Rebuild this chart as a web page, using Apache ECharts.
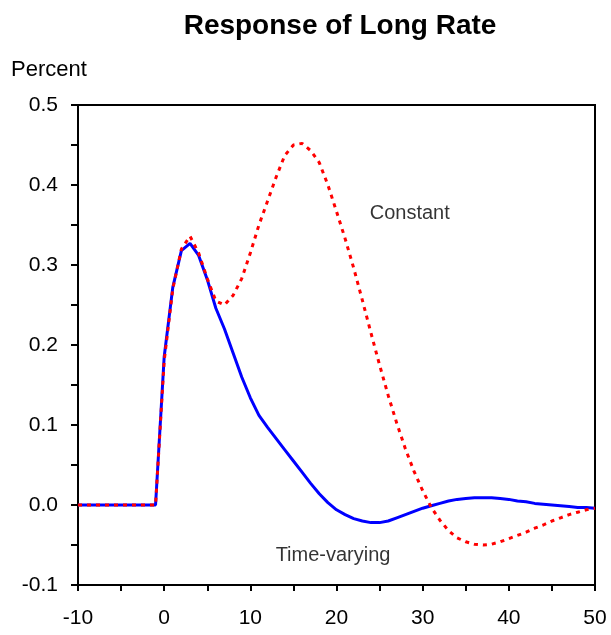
<!DOCTYPE html>
<html><head><meta charset="utf-8">
<script src="https://cdn.jsdelivr.net/npm/echarts@6/dist/echarts.min.js"></script>
<style>html,body{margin:0;padding:0;background:#fff}#c{width:611px;height:635px}</style>
</head><body><div id="c"></div>
<script>
const horizons = [];
for (let t = -10; t <= 50; t++) horizons.push(t);
const timeVarying = [0,0,0,0,0,0,0,0,0,0,
 0.185,0.272,0.318,0.327,0.312,0.282,0.246,0.220,0.190,0.160,
 0.134,0.112,0.097,0.083,0.069,0.055,0.041,0.027,0.014,0.003,
 -0.006,-0.012,-0.017,-0.020,-0.022,-0.022,-0.020,-0.016,-0.012,-0.008,
 -0.004,-0.001,0.002,0.005,0.007,0.008,0.009,0.009,0.009,0.008,
 0.007,0.005,0.004,0.002,0.001,0.000,-0.001,-0.002,-0.003,-0.003,-0.004];
const constant = [0,0,0,0,0,0,0,0,0,0,
 0.180,0.270,0.320,0.336,0.315,0.283,0.255,0.250,0.262,0.283,
 0.315,0.350,0.380,0.410,0.437,0.450,0.452,0.443,0.428,0.400,
 0.367,0.333,0.296,0.256,0.215,0.175,0.137,0.102,0.070,0.042,
 0.018,-0.003,-0.019,-0.032,-0.041,-0.046,-0.049,-0.050,-0.049,-0.046,
 -0.042,-0.038,-0.034,-0.029,-0.025,-0.020,-0.016,-0.012,-0.009,-0.006,-0.004];
const labels = [
  {text: 'Constant', t: 28.5, v: 0.364},
  {text: 'Time-varying', t: 19.6, v: -0.0625}
];
const font = '"Liberation Sans", Arial, sans-serif';
const chart = echarts.init(document.getElementById('c'), null, {renderer: 'canvas'});
chart.setOption({
  animation: false,
  title: {text: 'Response of Long Rate', left: 335, top: 7, textAlign: 'center',
    textStyle: {fontFamily: font, fontSize: 28, fontWeight: 'bold', color: '#000'}},
  graphic: [{type: 'text', left: 11, top: 59,
    style: {text: 'Percent', fontFamily: font, fontSize: 22, fill: '#000'}}],
  grid: {left: 78, right: 16, top: 105, bottom: 50, show: true, borderColor: '#000', borderWidth: 2},
  xAxis: {type: 'value', min: -10, max: 50, interval: 10,
    axisLine: {show: true, onZero: false, lineStyle: {color: '#000', width: 2}},
    axisTick: {show: true, length: 6, lineStyle: {color: '#000', width: 2}},
    minorTick: {show: true, splitNumber: 2, length: 6, lineStyle: {color: '#000', width: 2}},
    splitLine: {show: false},
    axisLabel: {fontFamily: font, fontSize: 21, color: '#000', margin: 23}},
  yAxis: {type: 'value', min: -0.1, max: 0.5, interval: 0.1,
    axisLine: {show: true, onZero: false, lineStyle: {color: '#000', width: 2}},
    axisTick: {show: true, length: 7, lineStyle: {color: '#000', width: 2}},
    minorTick: {show: true, splitNumber: 2, length: 7, lineStyle: {color: '#000', width: 2}},
    splitLine: {show: false},
    axisLabel: {fontFamily: font, fontSize: 21, color: '#000', margin: 20,
      formatter: v => v.toFixed(1)}},
  series: [
    {type: 'line', name: 'Time-varying', data: horizons.map((t,i)=>[t, timeVarying[i]]),
      showSymbol: false, lineStyle: {color: '#0000ff', width: 3}, z: 2},
    {type: 'line', name: 'Constant', data: horizons.map((t,i)=>[t, constant[i]]),
      showSymbol: false, lineStyle: {color: '#ff0000', width: 3, type: [4,5]}, z: 3},
    {type: 'scatter', data: labels.map(l=>[l.t, l.v]), symbolSize: 0,
      itemStyle: {color: '#000'},
      label: {show: true, position: 'inside', fontFamily: font, fontSize: 20, color: '#000',
        textBorderWidth: 0, formatter: p => labels[p.dataIndex].text}, silent: true}
  ]
});
</script></body></html>
